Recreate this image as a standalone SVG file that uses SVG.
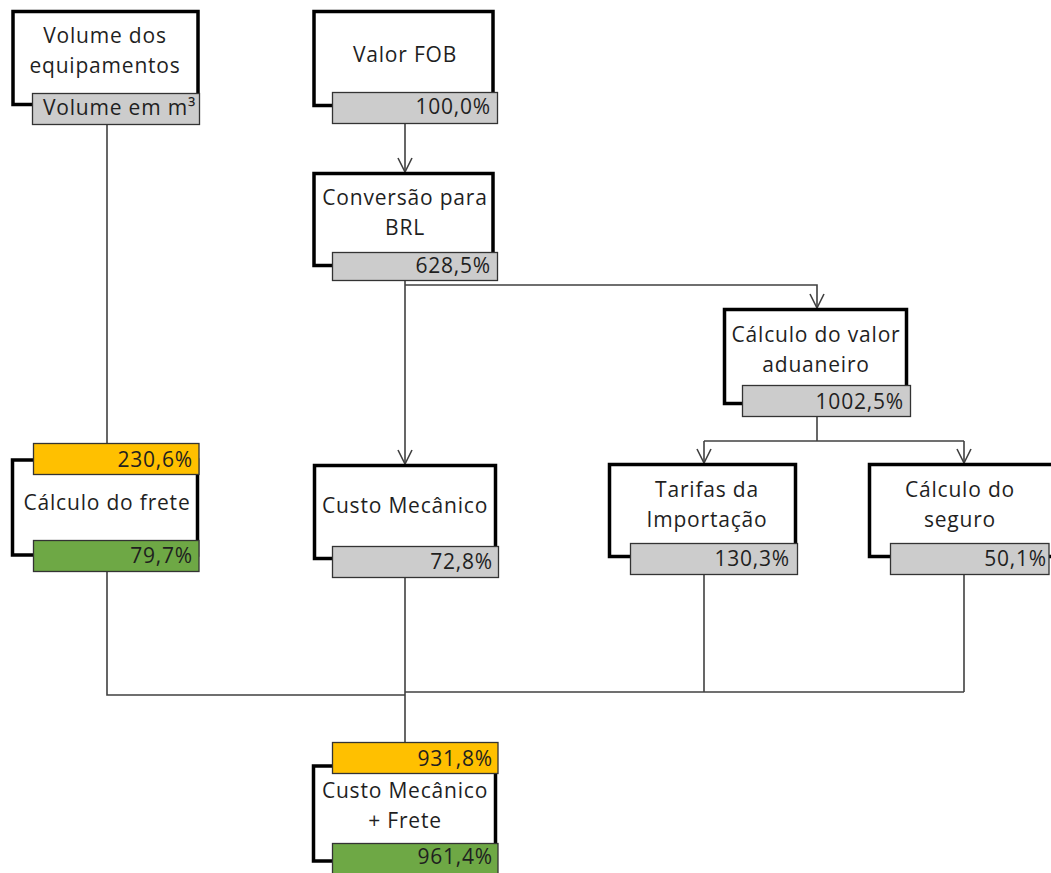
<svg xmlns="http://www.w3.org/2000/svg" width="1051" height="873" viewBox="0 0 1051 873">
<style>
text{font-family:"Open Sans","Liberation Sans",sans-serif;font-size:21px;letter-spacing:0.8px;fill:#1f1f1f}
.c{text-anchor:middle}
.r{text-anchor:end}
.box{fill:#fff;stroke:#000;stroke-width:3.5}
.gray{fill:#CCCCCC;stroke:#333;stroke-width:1.3}
.yel{fill:#FFC000;stroke:#333;stroke-width:1.3}
.grn{fill:#6EA845;stroke:#333;stroke-width:1.3}
.ln{fill:none;stroke:#404040;stroke-width:1.6}
</style>
<defs>
<marker id="arr" markerUnits="userSpaceOnUse" viewBox="0 -8 16 16" markerWidth="16" markerHeight="16" refX="15" refY="0" orient="auto" overflow="visible">
<path d="M1,-7 L15,0 L1,7" fill="none" stroke="#404040" stroke-width="1.6"/>
</marker>
</defs>
<rect width="1051" height="873" fill="#fff"/>
<g id="connectors">
<path class="ln" d="M107,125 V443"/>
<path class="ln" d="M405,124 V172" marker-end="url(#arr)"/>
<path class="ln" d="M405,281 V464" marker-end="url(#arr)"/>
<path class="ln" d="M405,285 H817 V308" marker-end="url(#arr)"/>
<path class="ln" d="M817,417 V441"/>
<path class="ln" d="M704,441 H964"/>
<path class="ln" d="M704,441 V463" marker-end="url(#arr)"/>
<path class="ln" d="M964,441 V463" marker-end="url(#arr)"/>
<path class="ln" d="M107,572 V695 H405"/>
<path class="ln" d="M405,578 V742"/>
<path class="ln" d="M405,692 H964"/>
<path class="ln" d="M704,575 V692"/>
<path class="ln" d="M964,575 V692"/>
</g>
<g id="volume">
<rect class="box" x="13" y="11.5" width="185" height="93"/>
<rect class="gray" x="32.5" y="93.5" width="167" height="31"/>
<text class="c" x="105" y="43">Volume dos</text>
<text class="c" x="105" y="73">equipamentos</text>
<text class="r" x="196" y="115">Volume em m³</text>
</g>
<g id="valor-fob">
<rect class="box" x="314" y="11.5" width="179" height="94"/>
<rect class="gray" x="332.5" y="92.5" width="165" height="31"/>
<text class="c" x="405" y="62">Valor FOB</text>
<text class="r" x="491" y="114">100,0%</text>
</g>
<g id="conversao">
<rect class="box" x="314" y="173.5" width="179" height="92"/>
<rect class="gray" x="332.5" y="252.5" width="165" height="28"/>
<text class="c" x="405" y="205">Conversão para</text>
<text class="c" x="405" y="235">BRL</text>
<text class="r" x="491" y="273">628,5%</text>
</g>
<g id="aduaneiro">
<rect class="box" x="724.5" y="309.5" width="182" height="94"/>
<rect class="gray" x="742.5" y="385.5" width="168" height="31"/>
<text class="c" x="816" y="342">Cálculo do valor</text>
<text class="c" x="816" y="372">aduaneiro</text>
<text class="r" x="904" y="409">1002,5%</text>
</g>
<g id="tarifas">
<rect class="box" x="609.5" y="464.5" width="186" height="92"/>
<rect class="gray" x="630.5" y="543.5" width="167" height="31"/>
<text class="c" x="707" y="497">Tarifas da</text>
<text class="c" x="707" y="527">Importação</text>
<text class="r" x="790" y="566">130,3%</text>
</g>
<g id="seguro">
<rect class="box" x="869.5" y="464.5" width="200" height="92"/>
<rect class="gray" x="890.5" y="543.5" width="158.5" height="31"/>
<text class="c" x="960" y="497">Cálculo do</text>
<text class="c" x="960" y="527">seguro</text>
<text class="r" x="1047" y="566">50,1%</text>
</g>
<g id="custo-mecanico">
<rect class="box" x="314.5" y="465.5" width="181" height="93"/>
<rect class="gray" x="332.5" y="546.5" width="166" height="31"/>
<text class="c" x="405" y="513">Custo Mecânico</text>
<text class="r" x="493" y="569">72,8%</text>
</g>
<g id="frete">
<rect class="box" x="12.5" y="460" width="185" height="95"/>
<rect class="yel" x="33.5" y="443.5" width="165.5" height="31"/>
<rect class="grn" x="33.5" y="540.5" width="165.5" height="31"/>
<text class="r" x="193" y="467">230,6%</text>
<text class="c" x="107" y="510">Cálculo do frete</text>
<text class="r" x="193" y="563">79,7%</text>
</g>
<g id="custo-frete">
<rect class="box" x="313.5" y="766" width="182" height="95"/>
<rect class="yel" x="332.5" y="742.5" width="165.5" height="31"/>
<rect class="grn" x="332.5" y="843.5" width="165.5" height="32"/>
<text class="r" x="493" y="766">931,8%</text>
<text class="c" x="405" y="798">Custo Mecânico</text>
<text class="c" x="405" y="828">+ Frete</text>
<text class="r" x="493" y="864">961,4%</text>
</g>
</svg>
